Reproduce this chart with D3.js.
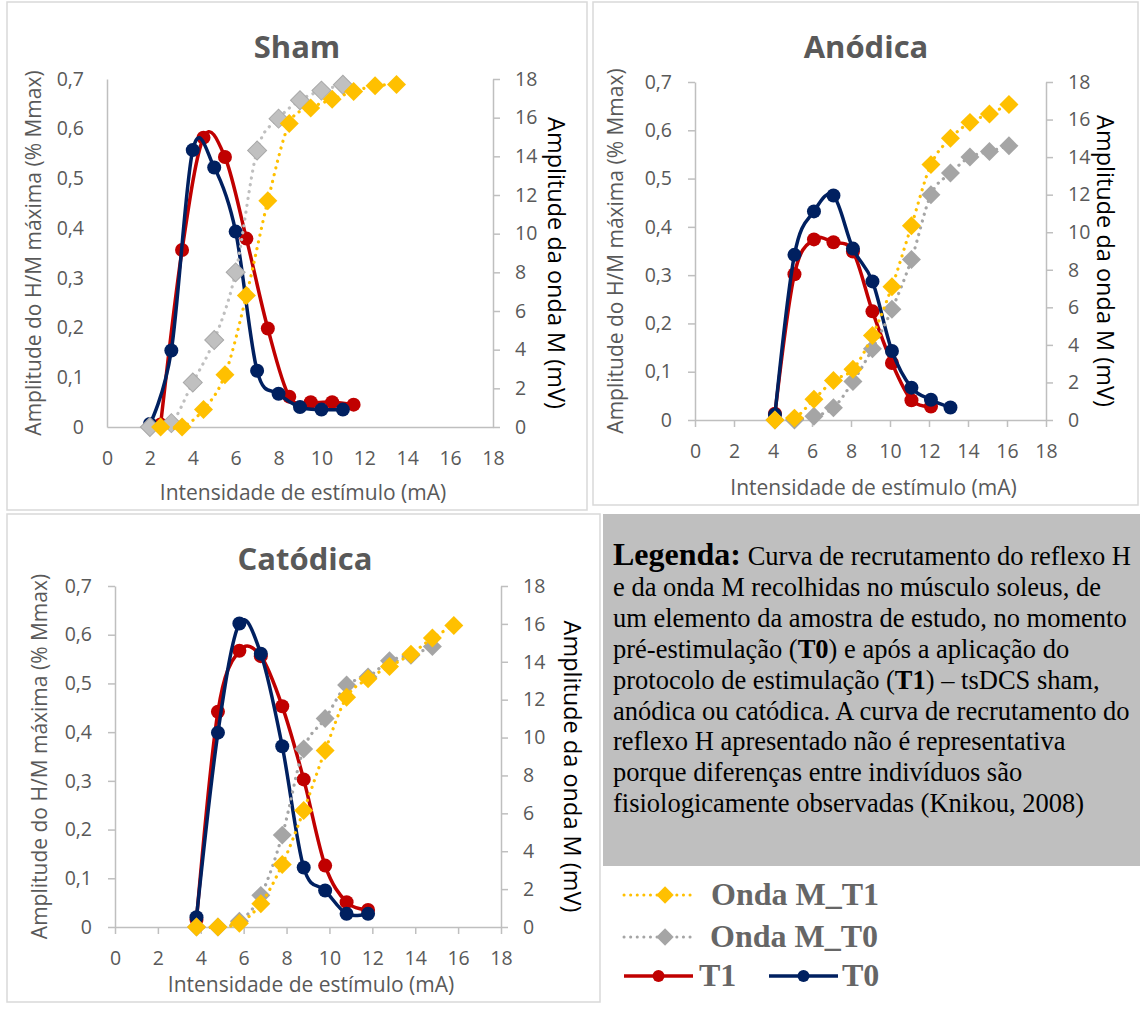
<!DOCTYPE html>
<html>
<head>
<meta charset="utf-8">
<script src="https://cdn.jsdelivr.net/npm/d3@7"></script>
<style>
  html, body { margin: 0; padding: 0; background: #fff; }
  svg { display: block; }
</style>
</head>
<body>
<div id="chart"></div>
<script>
(function () {
"use strict";

// Axis ticks (same on all three panels)
var hmTicks = [0, 0.1, 0.2, 0.3, 0.4, 0.5, 0.6, 0.7];
var hmTickLabels = ["0", "0,1", "0,2", "0,3", "0,4", "0,5", "0,6", "0,7"];
var mvTicks = [0, 2, 4, 6, 8, 10, 12, 14, 16, 18];
var maTicks = [0, 2, 4, 6, 8, 10, 12, 14, 16, 18];

var panelTitles = ["Sham", "Anódica", "Catódica"];
var seriesNames = ["Onda M_T1", "Onda M_T0", "T1", "T0"];

// Sham
var shamT1X = [2.5, 3.5, 4.5, 5.5, 6.5, 7.5, 8.5, 9.5, 10.5, 11.5];
var shamT1  = [0.005, 0.356, 0.582, 0.543, 0.379, 0.198, 0.061, 0.05, 0.05, 0.045];
var shamT0X = [2, 3, 4, 5, 6, 7, 8, 9, 10, 11];
var shamT0  = [0.006, 0.154, 0.557, 0.522, 0.393, 0.113, 0.067, 0.04, 0.035, 0.035];
var shamMT1X = [2.5, 3.5, 4.5, 5.5, 6.5, 7.5, 8.5, 9.5, 10.5, 11.5, 12.5, 13.5];
var shamMT1  = [0, 0, 0.9, 2.7, 6.8, 11.7, 15.7, 16.5, 16.95, 17.35, 17.65, 17.72];
var shamMT0X = [2, 3, 4, 5, 6, 7, 8, 9, 10, 11];
var shamMT0  = [0, 0.2, 2.3, 4.5, 8.0, 14.3, 15.95, 16.9, 17.4, 17.7];

// Anódica
var anoT1X = [4.1, 5.1, 6.1, 7.1, 8.1, 9.1, 10.1, 11.1, 12.1];
var anoT1  = [0.013, 0.302, 0.374, 0.368, 0.349, 0.225, 0.118, 0.041, 0.028];
var anoT0X = [4.1, 5.1, 6.1, 7.1, 8.1, 9.1, 10.1, 11.1, 12.1, 13.1];
var anoT0  = [0.011, 0.342, 0.432, 0.465, 0.355, 0.287, 0.143, 0.067, 0.042, 0.026];
var anoMT1X = [4.1, 5.1, 6.1, 7.1, 8.1, 9.1, 10.1, 11.1, 12.1, 13.1, 14.1, 15.1, 16.1];
var anoMT1  = [0, 0.1, 1.1, 2.1, 2.7, 4.5, 7.1, 10.35, 13.6, 15.0, 15.85, 16.3, 16.8];
var anoMT0X = [4.1, 5.1, 6.1, 7.1, 8.1, 9.1, 10.1, 11.1, 12.1, 13.1, 14.1, 15.1, 16.1];
var anoMT0  = [0, 0, 0.2, 0.65, 2.05, 3.8, 5.9, 8.55, 12.0, 13.15, 14.0, 14.3, 14.6];

// Catódica
var catT1X = [3.8, 4.8, 5.8, 6.8, 7.8, 8.8, 9.8, 10.8, 11.8];
var catT1  = [0.015, 0.442, 0.567, 0.556, 0.453, 0.303, 0.126, 0.051, 0.035];
var catT0X = [3.8, 4.8, 5.8, 6.8, 7.8, 8.8, 9.8, 10.8, 11.8];
var catT0  = [0.02, 0.399, 0.623, 0.561, 0.371, 0.122, 0.075, 0.027, 0.027];
var catMT1X = [3.8, 4.8, 5.8, 6.8, 7.8, 8.8, 9.8, 10.8, 11.8, 12.8, 13.8, 14.8, 15.8];
var catMT1  = [0, 0, 0.2, 1.23, 3.3, 6.15, 9.32, 12.13, 13.1, 13.75, 14.4, 15.25, 15.92];
var catMT0X = [3.8, 4.8, 5.8, 6.8, 7.8, 8.8, 9.8, 10.8, 11.8, 12.8, 13.8, 14.8];
var catMT0  = [0, 0, 0.3, 1.67, 4.85, 9.4, 11.0, 12.77, 13.2, 14.05, 14.35, 14.8];

// Caption text, one array per line: [text, bold?]
var captionLines = [
  [["Legenda:", 2], [" Curva de recrutamento do reflexo H", 0]],
  [["e da onda M recolhidas no músculo soleus, de", 0]],
  [["um elemento da amostra de estudo, no momento", 0]],
  [["pré-estimulação (", 0], ["T0", 1], [") e após a aplicação do", 0]],
  [["protocolo de estimulação (", 0], ["T1", 1], [") – tsDCS sham,", 0]],
  [["anódica ou catódica. A curva de recrutamento do", 0]],
  [["reflexo H apresentado não é representativa", 0]],
  [["porque diferenças entre indivíduos são", 0]],
  [["fisiologicamente observadas (Knikou, 2008)", 0]]
];

var fullWidth = 1140,
    fullHeight = 1010;

var sansFont = "'Open Sans', 'Noto Sans', sans-serif",
    serifFont = "'Liberation Serif', 'Times New Roman', serif";

var colT1 = "#c00000",
    colT0 = "#002060",
    colMT1 = "#ffc000";

var svg = d3.select("#chart").append("svg")
  .attr("width", fullWidth)
  .attr("height", fullHeight)
  .attr("viewBox", "0 0 " + fullWidth + " " + fullHeight);

svg.append("rect")
  .attr("width", fullWidth)
  .attr("height", fullHeight)
  .style("fill", "#fff");

function zipXY(xs, ys) {
  return xs.map(function(d, i) { return { x: d, y: ys[i] }; });
}

// Panel geometry
var panels = [
  {
    title: panelTitles[0],
    t1: zipXY(shamT1X, shamT1), t0: zipXY(shamT0X, shamT0),
    m1: zipXY(shamMT1X, shamMT1), m0: zipXY(shamMT0X, shamMT0),
    frame: [7, 2, 580, 508],
    x0: 107, x1: 493, y0: 427, y1: 79,
    titleX: 297, titleY: 58,
    leftTitleX: 34, rightTitleX: 556,
    xTitleY: 500,
    ticks: false,
    m0Fill: "#c0c0c0", m0Stroke: "#a8a8a8", m0Line: "#bfbfbf"
  },
  {
    title: panelTitles[1],
    t1: zipXY(anoT1X, anoT1), t0: zipXY(anoT0X, anoT0),
    m1: zipXY(anoMT1X, anoMT1), m0: zipXY(anoMT0X, anoMT0),
    frame: [593, 2, 545, 503],
    x0: 695, x1: 1046, y0: 420, y1: 82,
    titleX: 866, titleY: 58,
    leftTitleX: 616, rightTitleX: 1105,
    xTitleY: 495,
    ticks: true,
    m0Fill: "#a5a5a5", m0Stroke: "none", m0Line: "#a5a5a5"
  },
  {
    title: panelTitles[2],
    t1: zipXY(catT1X, catT1), t0: zipXY(catT0X, catT0),
    m1: zipXY(catMT1X, catMT1), m0: zipXY(catMT0X, catMT0),
    frame: [7, 514, 593, 488],
    x0: 115, x1: 501, y0: 927, y1: 586,
    titleX: 305, titleY: 570,
    leftTitleX: 40, rightTitleX: 572,
    xTitleY: 992,
    ticks: true,
    m0Fill: "#a5a5a5", m0Stroke: "none", m0Line: "#a5a5a5"
  }
];

var diamond = d3.symbol().type(d3.symbolSquare).size(180);

function styleAxis(g) {
  g.attr("font-family", null).attr("font-size", null);
  g.select(".domain").style("stroke", "#bfbfbf").style("stroke-width", 1.5);
  g.selectAll(".tick line").style("stroke", "#bfbfbf").style("stroke-width", 1.5);
  g.selectAll(".tick text")
    .style("fill", "#595959")
    .style("font-family", sansFont)
    .style("font-size", "19.5px");
}

function drawPanel(p) {
  var xScale = d3.scaleLinear().domain([0, 18]).range([p.x0, p.x1]);
  var yLeft = d3.scaleLinear().domain([0, 0.7]).range([p.y0, p.y1]);
  var yRight = d3.scaleLinear().domain([0, 18]).range([p.y0, p.y1]);

  var g = svg.append("g");

  g.append("rect")
    .attr("x", p.frame[0])
    .attr("y", p.frame[1])
    .attr("width", p.frame[2])
    .attr("height", p.frame[3])
    .style("fill", "#fff")
    .style("stroke", "#d9d9d9")
    .style("stroke-width", 1.5);

  var tk = p.ticks ? 7 : 0;

  g.append("g")
    .attr("transform", "translate(0," + p.y0 + ")")
    .call(d3.axisBottom(xScale).tickValues(maTicks).tickSize(tk).tickSizeOuter(0)
      .tickPadding(p.ticks ? 17 : 24))
    .call(styleAxis);

  g.append("g")
    .attr("transform", "translate(" + p.x0 + ",0)")
    .call(d3.axisLeft(yLeft).tickValues(hmTicks).tickSize(tk).tickSizeOuter(0)
      .tickPadding(p.ticks ? 16 : 23)
      .tickFormat(function(d, i) { return hmTickLabels[i]; }))
    .call(styleAxis);

  g.append("g")
    .attr("transform", "translate(" + p.x1 + ",0)")
    .call(d3.axisRight(yRight).tickValues(mvTicks).tickSize(7).tickSizeOuter(0).tickPadding(15))
    .call(styleAxis);

  // Titles
  g.append("text")
    .attr("x", p.titleX)
    .attr("y", p.titleY)
    .style("text-anchor", "middle")
    .style("font-family", sansFont)
    .style("font-weight", "bold")
    .style("font-size", "31px")
    .style("fill", "#595959")
    .text(p.title);

  g.append("text")
    .attr("transform", "translate(" + p.leftTitleX + "," + ((p.y0 + p.y1) / 2) + ") rotate(-90)")
    .attr("dy", "0.35em")
    .style("text-anchor", "middle")
    .style("font-family", sansFont)
    .style("font-size", "21px")
    .style("fill", "#595959")
    .text("Amplitude do H/M máxima (% Mmax)");

  g.append("text")
    .attr("transform", "translate(" + p.rightTitleX + "," + ((p.y0 + p.y1) / 2 + 10) + ") rotate(90)")
    .attr("dy", "0.35em")
    .style("text-anchor", "middle")
    .style("font-family", sansFont)
    .style("font-size", "23.5px")
    .style("fill", "#000")
    .text("Amplitude da onda M (mV)");

  g.append("text")
    .attr("x", (p.x0 + p.x1) / 2 + 3)
    .attr("y", p.xTitleY)
    .style("text-anchor", "middle")
    .style("font-family", sansFont)
    .style("font-size", "21px")
    .style("fill", "#595959")
    .text("Intensidade de estímulo (mA)");

  // Series
  var lineLeft = d3.line()
    .x(function(d) { return xScale(d.x); })
    .y(function(d) { return yLeft(d.y); })
    .curve(d3.curveCardinal.tension(0));

  var lineRight = d3.line()
    .x(function(d) { return xScale(d.x); })
    .y(function(d) { return yRight(d.y); })
    .curve(d3.curveCardinal.tension(0));

  [[p.t1, colT1], [p.t0, colT0]].forEach(function(s) {
    g.append("path")
      .attr("d", lineLeft(s[0]))
      .style("fill", "none")
      .style("stroke", s[1])
      .style("stroke-width", 3.5);
    g.append("g").selectAll("circle")
      .data(s[0])
      .enter()
      .append("circle")
        .attr("cx", function(d) { return xScale(d.x); })
        .attr("cy", function(d) { return yLeft(d.y); })
        .attr("r", 7)
        .style("fill", s[1]);
  });

  [[p.m0, p.m0Line, p.m0Fill, p.m0Stroke], [p.m1, colMT1, colMT1, "none"]].forEach(function(s) {
    g.append("path")
      .attr("d", lineRight(s[0]))
      .style("fill", "none")
      .style("stroke", s[1])
      .style("stroke-width", 3.2)
      .style("stroke-linecap", "round")
      .style("stroke-dasharray", "0.1 6.8");
    g.append("g").selectAll("path")
      .data(s[0])
      .enter()
      .append("path")
        .attr("d", diamond)
        .attr("transform", function(d) {
          return "translate(" + xScale(d.x) + "," + yRight(d.y) + ") rotate(45)";
        })
        .style("fill", s[2])
        .style("stroke", s[3])
        .style("stroke-width", 1);
  });
}

panels.forEach(drawPanel);

// Caption box
svg.append("rect")
  .attr("x", 603)
  .attr("y", 514)
  .attr("width", 537)
  .attr("height", 352)
  .style("fill", "#bfbfbf");

var caption = svg.append("text")
  .attr("x", 613)
  .attr("y", 565)
  .style("font-family", serifFont)
  .style("font-size", "26.5px")
  .style("fill", "#000");

captionLines.forEach(function(line, i) {
  line.forEach(function(seg, j) {
    var t = caption.append("tspan").text(seg[0]);
    if (j === 0) {
      t.attr("x", 613).attr("y", 565 + i * 30.9);
    }
    if (seg[1] === 2) {
      t.style("font-weight", "bold").style("font-size", "32px");
    } else if (seg[1] === 1) {
      t.style("font-weight", "bold");
    }
  });
});

// Legend
var legendItems = [
  { name: seriesNames[0], color: colMT1, kind: "dot", x: 624, y: 895, len: 72, tx: 711 },
  { name: seriesNames[1], color: "#a5a5a5", kind: "dot", x: 624, y: 937, len: 72, tx: 710 },
  { name: seriesNames[2], color: colT1, kind: "solid", x: 624, y: 976, len: 69, tx: 699 },
  { name: seriesNames[3], color: colT0, kind: "solid", x: 769, y: 976, len: 69, tx: 842 }
];

var legend = svg.append("g");

legendItems.forEach(function(d) {
  var ln = legend.append("line")
    .attr("x1", d.x)
    .attr("x2", d.x + d.len)
    .attr("y1", d.y)
    .attr("y2", d.y)
    .style("stroke", d.color);
  if (d.kind === "dot") {
    ln.style("stroke-width", 3)
      .style("stroke-linecap", "round")
      .style("stroke-dasharray", "0.1 6.5");
    legend.append("path")
      .attr("d", d3.symbol().type(d3.symbolSquare).size(150))
      .attr("transform", "translate(" + (d.x + d.len * 0.57) + "," + d.y + ") rotate(45)")
      .style("fill", d.color);
  } else {
    ln.style("stroke-width", 3.5);
    legend.append("circle")
      .attr("cx", d.x + d.len / 2)
      .attr("cy", d.y)
      .attr("r", 6)
      .style("fill", d.color);
  }
  legend.append("text")
    .attr("x", d.tx)
    .attr("y", d.y + 10)
    .style("font-family", serifFont)
    .style("font-weight", "bold")
    .style("font-size", "32px")
    .style("fill", "#666")
    .text(d.name);
});

})();
</script>
</body>
</html>
